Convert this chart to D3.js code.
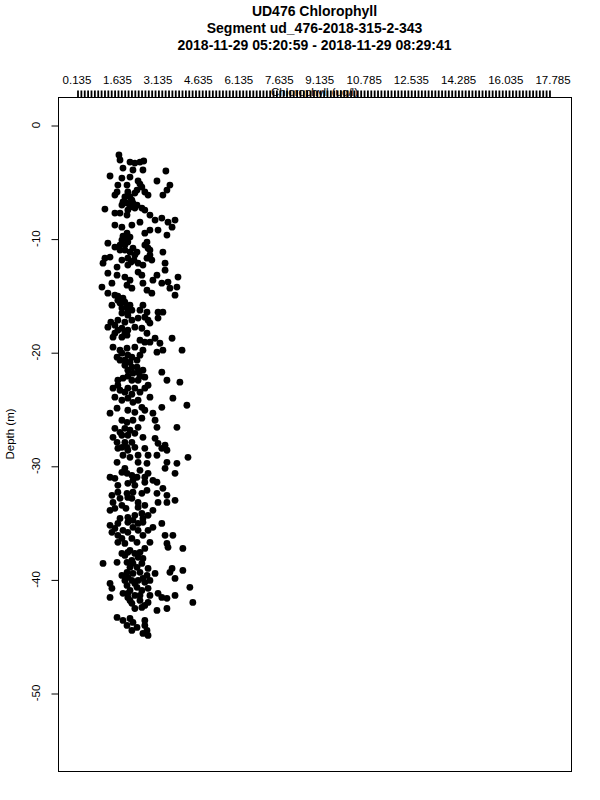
<!DOCTYPE html>
<html><head><meta charset="utf-8">
<script src="https://cdn.jsdelivr.net/npm/d3@7"></script>
<style>body{margin:0;background:#fff}svg{display:block}text{font-family:"Liberation Sans",Arial,sans-serif}</style>
</head><body>
<script>
const titleLines = ["UD476 Chlorophyll", "Segment ud_476-2018-315-2-343", "2018-11-29 05:20:59 - 2018-11-29 08:29:41"];
const xTickLabels = [0.135, 1.635, 3.135, 4.635, 6.135, 7.635, 9.135, 10.785, 12.535, 14.285, 16.035, 17.785];
const yTicks = [0, -10, -20, -30, -40, -50];
const xLabel = "Chlorophyll (ug/l)";
const yLabel = "Depth (m)";
// [chlorophyll (ug/l), depth (m)]
const observations = [
[1.69,-2.64],[1.73,-3.08],[2.10,-3.26],[2.28,-3.35],[2.47,-3.26],[2.61,-3.17],[1.84,-3.79],[2.21,-3.96],[2.58,-3.96],[3.43,-4.05],
[1.36,-4.49],[1.80,-4.67],[2.10,-4.58],[2.40,-4.93],[3.10,-4.93],[3.58,-5.29],[3.47,-5.73],[3.32,-6.17],[1.65,-5.29],[1.99,-5.29],
[2.54,-5.46],[2.65,-5.90],[2.77,-6.17],[1.62,-5.90],[1.54,-6.17],[2.02,-5.90],[2.28,-5.99],[2.17,-6.61],[1.84,-6.78],[1.80,-7.05],
[2.10,-7.22],[2.28,-7.31],[2.54,-7.31],[2.65,-7.49],[1.17,-7.40],[1.54,-7.75],[1.73,-7.75],[1.99,-7.93],[2.84,-7.93],[3.03,-8.37],
[3.28,-8.19],[3.51,-8.55],[3.77,-8.37],[2.47,-8.55],[1.54,-8.81],[1.80,-8.99],[2.17,-8.81],[2.65,-9.52],[2.84,-9.25],[3.14,-9.25],
[3.47,-9.69],[3.66,-8.99],[1.99,-9.52],[2.10,-9.87],[1.80,-10.13],[2.02,-10.31],[1.91,-10.57],[1.28,-10.40],[1.54,-10.75],[1.73,-11.01],
[2.21,-10.84],[2.36,-11.19],[2.73,-10.31],[2.77,-10.84],[2.84,-11.45],[2.91,-11.89],[3.32,-11.19],[1.17,-11.72],[1.36,-11.63],[1.80,-11.89],
[2.02,-11.72],[2.28,-11.45],[2.40,-12.16],[3.40,-12.16],[1.10,-12.16],[1.62,-12.51],[2.02,-12.33],[2.58,-12.33],
[1.91,-6.34],[2.10,-6.34],[1.99,-6.87],[2.21,-6.87],[2.36,-7.05],[2.02,-7.49],[1.84,-9.78],[1.95,-9.96],[1.91,-11.01],[2.10,-11.19],
[1.73,-10.57],[2.65,-10.57],[2.84,-11.01],[2.73,-11.72],[2.14,-12.07],[2.25,-11.89],[2.47,-5.20],[2.36,-5.73],
[1.28,-13.04],[1.62,-13.22],[1.91,-13.39],[2.10,-13.66],[2.40,-12.95],[2.54,-13.22],[3.10,-13.22],[3.40,-12.78],[3.88,-13.39],[1.06,-14.27],
[1.43,-13.92],[1.99,-14.10],[2.17,-14.36],[2.58,-13.92],[2.73,-14.54],[2.91,-14.80],[2.95,-13.66],[3.28,-13.92],[3.51,-13.83],[3.58,-14.36],
[3.84,-14.27],[3.77,-14.98],[1.28,-14.80],[1.54,-14.98],[1.65,-15.42],[1.84,-15.24],[1.73,-15.68],[1.99,-16.04],[1.43,-15.86],[2.17,-16.30],
[2.47,-16.30],[2.73,-16.48],[2.65,-16.92],[2.77,-17.18],[3.14,-16.48],[3.32,-16.48],[3.14,-17.00],[1.80,-16.56],[2.02,-16.74],[1.65,-17.18],
[1.91,-17.36],[2.17,-17.18],[1.28,-17.80],[1.54,-17.62],[1.80,-17.89],[2.02,-18.06],[2.28,-17.80],[2.54,-17.89],[1.54,-18.33],[1.80,-18.68],
[1.99,-18.50],[2.73,-18.33],[2.47,-18.94],[2.65,-19.12],[2.84,-19.12],[3.03,-18.77],[3.21,-19.21],[3.66,-18.77],[1.47,-19.56],[1.73,-19.82],
[1.99,-19.65],[2.28,-19.56],[2.58,-19.82],[3.10,-20.00],[3.32,-19.82],[4.03,-19.82],[1.62,-20.44],[1.73,-20.70],[2.17,-20.44],[2.36,-20.70],
[2.47,-20.26],[1.91,-21.15],[2.17,-21.32],[2.36,-21.32],[2.02,-21.59],[2.40,-21.76],[2.58,-21.59],[3.28,-21.76],[1.65,-22.47],[1.84,-22.29],
[2.17,-22.47],[2.40,-22.47],[2.65,-22.20],[3.47,-22.47],[3.95,-22.64],[1.47,-23.17],[1.73,-23.35],[2.02,-23.17],[2.28,-23.17],[2.65,-23.17],
[2.77,-22.91],
[1.65,-15.07],[1.91,-15.59],[2.10,-15.86],[1.80,-16.12],[2.02,-16.39],[1.39,-17.36],[1.65,-18.06],[1.91,-18.33],[1.47,-18.68],[1.80,-20.09],
[2.02,-20.26],[1.91,-20.70],[2.10,-20.88],[2.21,-21.85],[2.47,-22.11],[2.02,-22.11],[1.65,-22.91],[1.91,-23.52],[2.47,-23.52],[2.17,-23.70],
[2.58,-15.86],[2.84,-17.44],[2.40,-17.00],
[1.54,-23.96],[2.02,-24.05],[2.21,-24.41],[2.84,-23.96],[3.69,-24.05],[4.21,-24.67],[1.36,-25.37],[1.62,-24.93],[2.02,-25.11],[2.28,-25.29],
[2.54,-24.85],[2.95,-25.37],[3.28,-24.85],[1.80,-25.99],[1.99,-26.17],[2.21,-25.99],[2.54,-25.81],[3.03,-25.99],[1.54,-26.70],[1.91,-26.70],
[2.40,-26.61],[3.10,-26.61],[3.84,-26.61],[1.80,-27.31],[2.02,-27.31],[2.28,-27.14],[2.58,-27.49],[3.03,-27.58],[1.62,-27.93],[1.91,-27.93],
[2.17,-27.93],[2.28,-28.37],[3.14,-28.02],[3.40,-28.19],[1.65,-28.46],[2.02,-28.63],[2.65,-28.46],[3.28,-28.46],[3.47,-28.63],[1.84,-29.07],
[2.10,-29.25],[2.40,-29.07],[2.77,-29.07],[3.10,-29.07],[4.25,-29.25],[1.62,-29.69],[2.40,-29.69],[2.73,-29.78],[3.47,-29.69],[3.84,-29.78],
[1.80,-30.57],[1.99,-30.66],[2.17,-30.84],[2.36,-31.01],[2.65,-31.01],[2.95,-31.28],[3.40,-30.22],[3.77,-30.66],[1.36,-31.01],[1.54,-31.10],
[1.65,-31.72],[2.02,-31.54],[2.28,-31.72],[2.65,-31.45],[3.10,-31.45],[1.43,-32.60],[1.99,-32.42],[2.21,-32.33],[2.54,-32.42],[2.73,-32.16],
[3.32,-31.98],[3.47,-32.60],[3.10,-32.42],[1.47,-33.22],[1.73,-32.86],[2.02,-32.78],[2.40,-33.22],[3.14,-33.22],[3.77,-33.04],[3.47,-33.22],
[1.54,-33.74],[1.36,-33.92],[2.40,-33.66],[2.65,-33.48],[2.95,-33.92],[1.73,-34.63],[2.02,-34.54],[2.28,-34.36],[2.54,-34.19],[2.77,-34.36],
[1.73,-27.05],[2.10,-26.87],[1.99,-28.37],[1.47,-27.49],[1.80,-28.37],[1.91,-30.22],[2.47,-30.40],[2.21,-31.28],[2.77,-30.66],[1.65,-32.33],
[1.80,-33.48],[2.17,-32.86],[1.95,-33.74],[1.80,-24.23],[2.40,-24.23],[2.65,-25.11],[2.21,-34.80],[2.58,-34.63],
[1.36,-35.24],[1.65,-35.07],[2.02,-34.98],[2.40,-35.07],[2.58,-34.98],[2.95,-35.42],[3.28,-35.07],[1.43,-35.86],[1.65,-36.12],[2.02,-35.86],
[2.40,-35.68],[2.58,-36.12],[3.40,-36.12],[3.69,-36.12],[1.65,-36.74],[1.91,-36.83],[2.36,-36.74],[2.84,-36.74],[3.47,-36.83],[3.51,-37.18],
[4.06,-37.27],[1.80,-37.71],[2.02,-37.62],[2.28,-37.71],[2.40,-38.06],[2.17,-38.33],[2.58,-38.15],[1.10,-38.59],[1.62,-38.50],[2.21,-38.59],
[2.36,-38.94],[3.66,-39.03],[4.06,-39.21],[1.99,-39.38],[2.21,-39.47],[2.47,-39.38],[2.73,-39.65],[3.03,-39.47],[3.58,-39.38],[1.91,-40.09],
[2.17,-40.09],[2.40,-40.09],[2.65,-40.26],[3.77,-39.91],[1.36,-40.35],[1.43,-40.79],[1.99,-40.53],[2.10,-40.97],[2.36,-40.70],[2.77,-40.79],
[4.32,-40.70],[1.36,-41.59],[1.84,-41.23],[2.02,-41.59],[2.28,-41.41],[2.47,-41.85],[2.77,-42.03],[3.14,-41.23],[3.28,-41.59],[3.47,-41.67],
[3.77,-41.41],[4.43,-42.03],[2.17,-42.11],[2.28,-42.56],[2.54,-42.47],[3.10,-42.73],[3.47,-42.56],[1.62,-43.35],[1.84,-43.61],[2.10,-43.44],
[2.21,-43.79],[2.65,-43.61],[2.17,-44.49],[2.65,-44.05],[2.73,-44.49],[2.58,-44.76],[2.77,-44.93],
[1.91,-37.89],[2.10,-37.44],[2.47,-37.62],[2.65,-37.27],[1.99,-38.50],[2.10,-38.94],[2.54,-38.59],[2.77,-39.03],[1.80,-39.65],[2.02,-39.82],
[2.58,-39.91],[2.84,-40.09],[2.28,-40.35],[2.54,-40.97],[2.02,-41.23],[2.84,-41.41],[2.47,-41.41],[2.10,-41.85],[2.65,-42.29],[1.54,-35.51],
[1.84,-35.68],[2.21,-35.42],[2.77,-35.68],[1.80,-36.39],[2.17,-36.39],[1.99,-44.05],[2.36,-44.23]
];

const W = 600, H = 800;
const box = {left: 58, right: 571, top: 97, bottom: 771};
const svg = d3.select("body").append("svg").attr("width", W).attr("height", H);

const x = d3.scaleLinear().domain([0.135, 17.785]).range([77, 553]);
const y = d3.scaleLinear().domain([0, -50]).range([125, 693]);

// titles
svg.selectAll("text.title").data(titleLines).join("text")
  .attr("class", "title")
  .attr("x", (box.left + box.right) / 2)
  .attr("y", (d, i) => 16 + i * 17)
  .attr("text-anchor", "middle")
  .attr("font-size", 14).attr("font-weight", "bold")
  .text(d => d);

// box
svg.append("rect").attr("x", box.left + 0.5).attr("y", box.top + 0.5)
  .attr("width", box.right - box.left).attr("height", box.bottom - box.top)
  .attr("fill", "none").attr("stroke", "#000").attr("stroke-width", 1);

// top axis: dense ticks
const minorTicks = d3.range(0, 141).map(i => 0.135 + i * 0.125);
const topAxis = d3.axisTop(x).tickValues(minorTicks).tickSize(7).tickFormat("");
const gTop = svg.append("g").attr("transform", `translate(0.5,${box.top + 0.5})`).call(topAxis);
gTop.select(".domain").attr("d", `M${x(0.135)},0H${x(17.785)}`);
gTop.selectAll("line").attr("stroke", "#000").attr("stroke-width", 1.8);

// top labels
svg.selectAll("text.xlab").data(xTickLabels).join("text")
  .attr("class", "xlab")
  .attr("x", d => x(d))
  .attr("y", 84)
  .attr("text-anchor", "middle")
  .attr("font-size", 11.5)
  .text(d => d3.format(".3f")(d));

svg.append("text").attr("x", (box.left + box.right) / 2).attr("y", 96)
  .attr("text-anchor", "middle").attr("font-size", 11.5).text(xLabel);

// left axis
const leftAxis = d3.axisLeft(y).tickValues(yTicks).tickSize(7).tickFormat("");
const gLeft = svg.append("g").attr("transform", `translate(${box.left + 0.5},0.5)`).call(leftAxis);
gLeft.select(".domain").remove();
gLeft.selectAll("line").attr("stroke", "#000");

svg.selectAll("text.ylab").data(yTicks).join("text")
  .attr("class", "ylab")
  .attr("transform", d => `translate(40,${y(d)}) rotate(-90)`)
  .attr("text-anchor", "middle")
  .attr("font-size", 11.5)
  .text(d => d);

svg.append("text").attr("transform", `translate(14,${(box.top + box.bottom) / 2}) rotate(-90)`)
  .attr("text-anchor", "middle").attr("font-size", 11.5).text(yLabel);

// points
svg.append("g").selectAll("circle").data(observations).join("circle")
  .attr("cx", d => x(d[0]))
  .attr("cy", d => y(d[1]))
  .attr("r", 3.4)
  .attr("fill", "#000");
</script>
</body></html>
